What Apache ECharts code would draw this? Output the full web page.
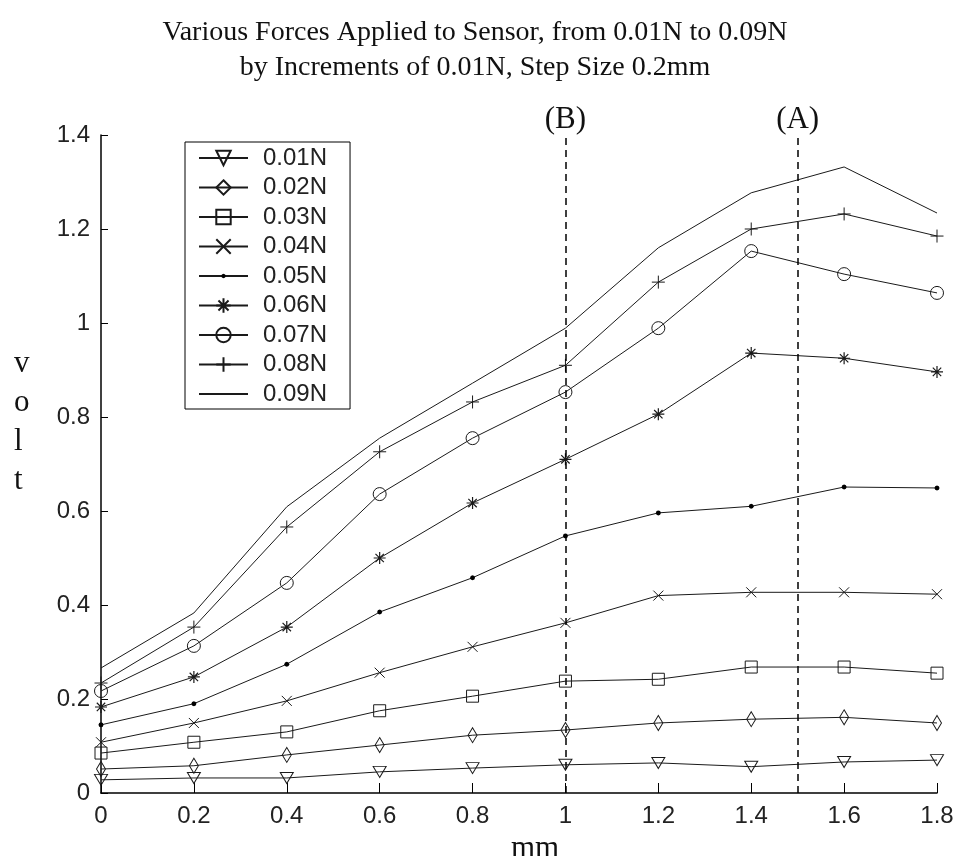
<!DOCTYPE html>
<html>
<head>
<meta charset="utf-8">
<script src="https://cdn.jsdelivr.net/npm/echarts@6/dist/echarts.min.js"></script>
<style>html,body{margin:0;padding:0;background:#fff}#c{width:956px;height:856px}</style>
</head>
<body>
<div id="c"></div>
<script>
var xValues = [0, 0.2, 0.4, 0.6, 0.8, 1.0, 1.2, 1.4, 1.6, 1.8];
var names = ['0.01N','0.02N','0.03N','0.04N','0.05N','0.06N','0.07N','0.08N','0.09N'];
var f001 = [0.028,0.032,0.032,0.045,0.053,0.060,0.064,0.056,0.066,0.070];
var f002 = [0.051,0.058,0.081,0.102,0.123,0.134,0.149,0.157,0.161,0.149];
var f003 = [0.085,0.108,0.130,0.175,0.206,0.238,0.242,0.268,0.268,0.255];
var f004 = [0.108,0.149,0.196,0.256,0.311,0.362,0.420,0.427,0.427,0.423];
var f005 = [0.145,0.190,0.274,0.385,0.458,0.547,0.596,0.610,0.651,0.649];
var f006 = [0.183,0.247,0.353,0.500,0.617,0.710,0.806,0.936,0.925,0.896];
var f007 = [0.217,0.313,0.447,0.636,0.755,0.853,0.989,1.153,1.104,1.064];
var f008 = [0.234,0.353,0.566,0.726,0.832,0.910,1.087,1.200,1.232,1.185];
var f009 = [0.266,0.383,0.609,0.755,0.872,0.989,1.160,1.277,1.332,1.234];
var allSeries = [f001,f002,f003,f004,f005,f006,f007,f008,f009];
var markerLines = [{x:1.0,label:'(B)'},{x:1.5,label:'(A)'}];

var T = 'rgba(0,0,0,0)';
// small dot inside a padded box (zero-length corner moves keep the box size)
var dotPath = 'path://M0,0L0,0M16,16L16,16M8,5.5L9.8,6.2L10.5,8L9.8,9.8L8,10.5L6.2,9.8L5.5,8L6.2,6.2Z';
var symbols = [
  {symbol:'triangle', size:[13,11], rotate:180, fill:T, bw:1},
  {symbol:'path://M5,0L10,14L5,28L0,14Z', size:[9,15], rotate:0, fill:T, bw:1},
  {symbol:'rect', size:12, rotate:0, fill:T, bw:1},
  {symbol:'path://M0,0L10,10M10,0L0,10', size:10, rotate:0, fill:T, bw:1},
  {symbol:dotPath, size:16, rotate:0, fill:'#000', bw:0},
  {symbol:'path://M5,0L5,10M0,5L10,5M1.5,1.5L8.5,8.5M8.5,1.5L1.5,8.5', size:12, rotate:0, fill:T, bw:1.2},
  {symbol:'circle', size:13, rotate:0, fill:T, bw:1},
  {symbol:'path://M5,0L5,10M0,5L10,5', size:13, rotate:0, fill:T, bw:1},
  {symbol:'circle', size:0, rotate:0, fill:T, bw:0}
];

var series = allSeries.map(function(vals, i){
  var s = symbols[i];
  var obj = {
    name: names[i],
    type: 'line',
    data: xValues.map(function(x, j){ return [x, vals[j]]; }),
    symbol: s.symbol,
    symbolSize: s.size,
    symbolRotate: s.rotate,
    symbolKeepAspect: false,
    showAllSymbol: true,
    clip: false,
    lineStyle: {color:'#1a1a1a', width:1},
    itemStyle: {color: s.fill, borderColor:'#1a1a1a', borderWidth:s.bw},
    emphasis: {disabled:true},
    z: 3
  };
  if (i === 0) {
    obj.markLine = {
      silent: true,
      symbol: ['none','none'],
      lineStyle: {color:'#000', type:[7,5], width:1.5},
      label: {show:true, position:'end', formatter: function(p){ return p.name; },
        fontFamily:'Liberation Serif', fontSize:31, color:'#111', distance:0},
      data: markerLines.map(function(m){ return {name:m.label, xAxis:m.x}; })
    };
  }
  return obj;
});

var chart = echarts.init(document.getElementById('c'), null, {renderer:'canvas'});
chart.setOption({
  animation: false,
  backgroundColor: '#fff',
  title: {
    text: 'Various Forces Applied to Sensor, from 0.01N to 0.09N\nby Increments of 0.01N, Step Size 0.2mm',
    left: 470, top: 10, textAlign: 'center',
    textStyle: {fontFamily:'Liberation Serif', fontSize:28, fontWeight:'normal', color:'#111', lineHeight:35}
  },
  graphic: [{
    type:'text', left: 14, top: 344,
    style: {text:'v\no\nl\nt', fontFamily:'Liberation Serif', fontSize:31, fill:'#111', lineHeight:39, align:'center', width:20}
  }],
  legend: {
    orient: 'vertical',
    left: 185, top: 142,
    padding: [4, 23, 3, 13],
    itemWidth: 49, itemHeight: 18, itemGap: 5.5,
    backgroundColor: '#fff',
    borderColor: '#000', borderWidth: 1,
    textStyle: {fontFamily:'Liberation Sans', fontSize:24, lineHeight:24, color:'#222', padding:[0,0,0,10]},
    data: names
  },
  grid: {left:101, right:19, top:135, bottom:63, containLabel:false, outerBoundsMode:'none'},
  xAxis: {
    type:'value', min:0, max:1.8, interval:0.2,
    name:'mm', nameLocation:'middle', nameGap:33,
    nameTextStyle:{fontFamily:'Liberation Serif', fontSize:31, color:'#111', padding:[0,0,0,32]},
    axisLine:{show:true, lineStyle:{color:'#000', width:1.5}},
    axisTick:{show:true, inside:true, length:10, lineStyle:{color:'#000'}},
    axisLabel:{fontFamily:'Liberation Sans', fontSize:24, color:'#222', margin:11},
    splitLine:{show:false}
  },
  yAxis: {
    type:'value', min:0, max:1.4, interval:0.2,
    axisLine:{show:true, lineStyle:{color:'#000', width:1.5}},
    axisTick:{show:true, inside:true, length:7, lineStyle:{color:'#000'}},
    axisLabel:{fontFamily:'Liberation Sans', fontSize:24, color:'#222', margin:11},
    splitLine:{show:false}
  },
  series: series
});
</script>
</body>
</html>
